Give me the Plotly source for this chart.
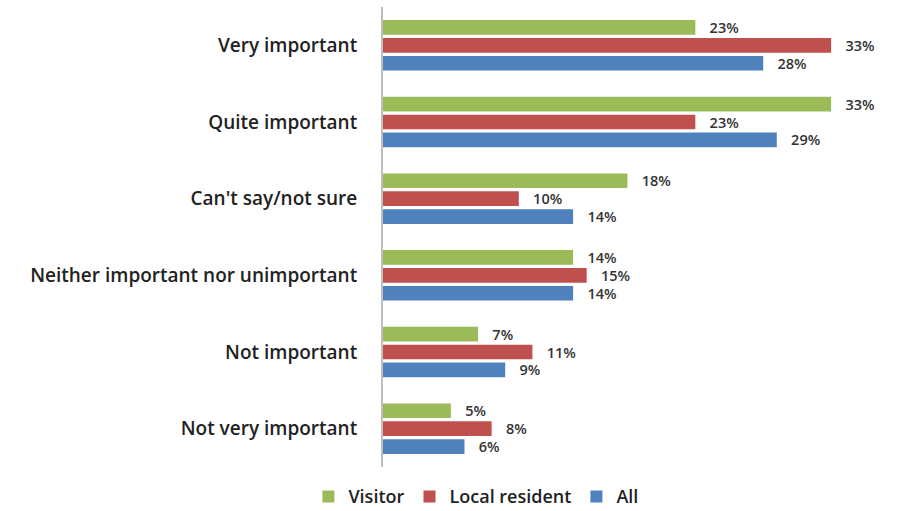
import plotly.graph_objects as go

categories = [
    "Very important",
    "Quite important",
    "Can't say/not sure",
    "Neither important nor unimportant",
    "Not important",
    "Not very important",
]
visitor = [23, 33, 18, 14, 7, 5]
local_resident = [33, 23, 10, 15, 11, 8]
all_resp = [28, 29, 14, 14, 9, 6]

series = [
    ("Visitor", visitor, "#9BBB59"),
    ("Local resident", local_resident, "#C0504D"),
    ("All", all_resp, "#4F81BD"),
]

FONT = "Open Sans"

fig = go.Figure()
# plotly stacks grouped horizontal bars bottom-up, so add in reverse order
for name, vals, color in reversed(series):
    fig.add_trace(go.Bar(
        y=categories,
        x=vals,
        name=name,
        orientation="h",
        marker=dict(color=color, line=dict(width=0)),
        text=[f"{v}%" for v in vals],
        texttemplate="   %{text}",
        textposition="outside",
        constraintext="none",
        cliponaxis=False,
        textfont=dict(family=FONT, size=14.5, color="#333333", weight=600),
    ))

fig.update_layout(
    width=901,
    height=511,
    margin=dict(l=383, r=2, t=7, b=44, autoexpand=False),
    paper_bgcolor="white",
    plot_bgcolor="white",
    barmode="group",
    bargap=0.3,
    bargroupgap=0.18,
    showlegend=True,
    legend=dict(
        orientation="h",
        x=0.18, xanchor="center",
        yref="container",
        y=0.028, yanchor="middle",
        traceorder="reversed",
        font=dict(family=FONT, size=18, color="#222222", weight=600),
        itemwidth=30,
    ),
    font=dict(family=FONT),
)
fig.update_xaxes(range=[0, 38], visible=False, showgrid=False)
fig.update_yaxes(
    categoryorder="array",
    categoryarray=list(reversed(categories)),
    showline=True,
    linecolor="#BFBFBF",
    linewidth=2,
    ticks="",
    ticklabelstandoff=20,
    showgrid=False,
    tickfont=dict(family=FONT, size=19, color="#222222", weight=600),
)

fig.write_html("out.html")
